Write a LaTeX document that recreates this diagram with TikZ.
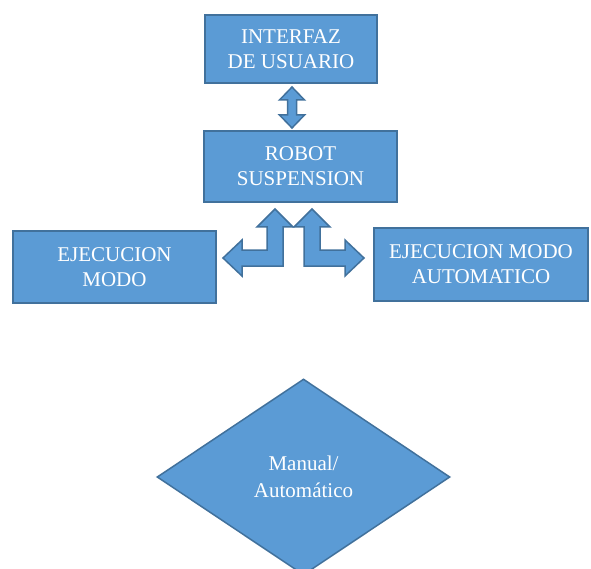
\documentclass[tikz,border=0pt]{standalone}
\usepackage{fontspec}
\setmainfont{Liberation Serif}
\usetikzlibrary{shapes.geometric}
\definecolor{boxFill}{RGB}{91,155,213}
\definecolor{boxLine}{RGB}{65,113,156}
\begin{document}
\begin{tikzpicture}[x=1pt, y=-1pt, boxStyle/.style={rectangle, draw=boxLine, fill=boxFill, line width=1.5pt, text=white, align=center, font=\fontsize{21}{25}\selectfont}, decisionStyle/.style={diamond, draw=boxLine, fill=boxFill, line width=1.5pt, inner sep=0pt, text=white, align=center, font=\fontsize{21}{27}\selectfont}, blockArrow/.style={draw=boxLine, fill=boxFill, line width=1.5pt, line join=miter}]
    \clip (0,0) rectangle (591,569);
    \fill[white] (0,0) rectangle (591,569);
    % boxes
    \node[boxStyle, minimum width=172pt, minimum height=68pt] (interfaz) at (291, 49)    {INTERFAZ\\DE USUARIO};
    \node[boxStyle, minimum width=193pt, minimum height=71pt] (robot)    at (300.5, 166.5) {ROBOT\\SUSPENSION};
    \node[boxStyle, minimum width=203pt, minimum height=72pt] (manual)   at (114.5, 267) {EJECUCION\\MODO};
    \node[boxStyle, minimum width=214pt, minimum height=73pt] (auto)     at (481, 264.5) {EJECUCION MODO\\AUTOMATICO};
    \node[decisionStyle, minimum width=293pt, minimum height=196pt] (modo) at (303.5, 477) {Manual/\\Autom\'atico};
    % up-down arrow between interfaz and robot
    \draw[blockArrow] (292,87) -- (304.5,100) -- (296.5,100) -- (296.5,115) -- (304.5,115) -- (292,128)
        -- (279.5,115) -- (287.5,115) -- (287.5,100) -- (279.5,100) -- cycle;
    % left-up arrow towards the manual box
    \draw[blockArrow] (275,209) -- (293,227) -- (283,227) -- (283,266) -- (242,266) -- (242,276)
        -- (223,258) -- (242,240) -- (242,250) -- (267,250) -- (267,227) -- (257,227) -- cycle;
    % right-up arrow towards the automatic box
    \draw[blockArrow] (312,209) -- (294,227) -- (304,227) -- (304,266) -- (345,266) -- (345,276)
        -- (364,258) -- (345,240) -- (345,250) -- (320,250) -- (320,227) -- (330,227) -- cycle;
\end{tikzpicture}
\end{document}
